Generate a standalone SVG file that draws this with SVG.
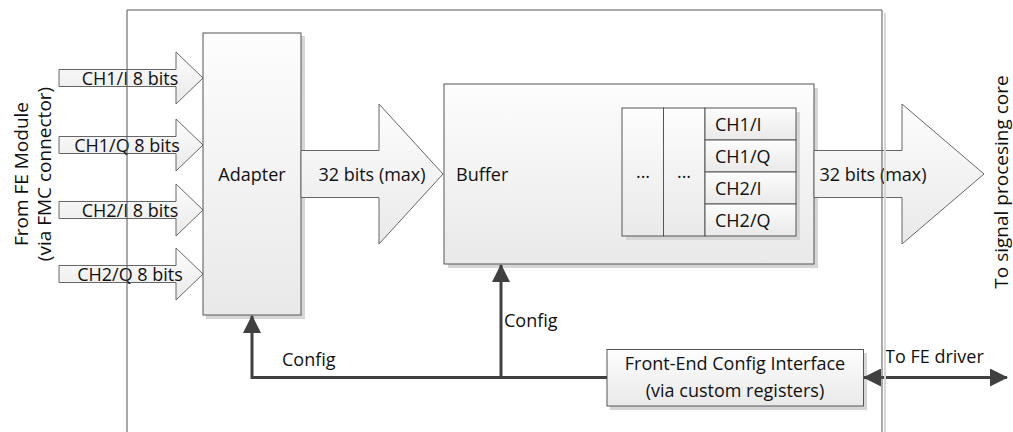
<svg xmlns="http://www.w3.org/2000/svg" width="1013" height="432" viewBox="0 0 1013 432">
  <defs>
    <linearGradient id="boxFill" x1="0" y1="0" x2="0" y2="1">
      <stop offset="0" stop-color="#fdfdfd"/>
      <stop offset="1" stop-color="#e9e9e9"/>
    </linearGradient>
    <marker id="head" viewBox="0 0 18 18" refX="17" refY="9" markerWidth="18" markerHeight="18" markerUnits="userSpaceOnUse" orient="auto-start-reverse">
      <path d="M0,0 L18,9 L0,18 Z" fill="#404040"/>
    </marker>
    <style>
      .box { fill: url(#boxFill); stroke: #555; stroke-width: 1; }
      .shadow { fill: #d6d6d6; }
      .arrow { fill: url(#boxFill); stroke: #666; stroke-width: 1; }
      .cell { fill: url(#boxFill); stroke: #555; stroke-width: 1; }
      .wire { fill: none; stroke: #404040; stroke-width: 3; }
      .frame { fill: none; stroke: #555; stroke-width: 1; }
      .frameShadow { fill: none; stroke: #d6d6d6; stroke-width: 2; }
      text { font-family: "Open Sans", "Liberation Sans", sans-serif; font-size: 18px; fill: #111; }
      .mid { text-anchor: middle; }
      .side { font-size: 19px; }
    </style>
  </defs>

  <rect width="1013" height="432" fill="#ffffff"/>

  <!-- side labels -->
  <g id="label-in">
    <text class="mid side" transform="translate(28,174) rotate(-90)">From FE Module</text>
    <text class="mid side" transform="translate(51,174) rotate(-90)">(via FMC connector)</text>
  </g>
  <g id="label-out">
    <text class="mid side" transform="translate(1008,182) rotate(-90)">To signal procesing core</text>
  </g>

  <!-- input buses -->
  <g id="bus-ch1i">
    <path class="arrow" d="M59,69.5 H176 V52 L203,78 L176,104 V86.5 H59 Z"/>
    <text class="mid" x="130" y="84.5">CH1/I 8 bits</text>
  </g>
  <g id="bus-ch1q">
    <path class="arrow" d="M59,136.5 H176 V119 L203,145 L176,171 V153.5 H59 Z"/>
    <text class="mid" x="127" y="151.5">CH1/Q 8 bits</text>
  </g>
  <g id="bus-ch2i">
    <path class="arrow" d="M59,201.5 H176 V184 L203,210 L176,236 V218.5 H59 Z"/>
    <text class="mid" x="130" y="216.5">CH2/I 8 bits</text>
  </g>
  <g id="bus-ch2q">
    <path class="arrow" d="M59,265.5 H176 V248 L203,274 L176,300 V282.5 H59 Z"/>
    <text class="mid" x="130" y="280.5">CH2/Q 8 bits</text>
  </g>

  <!-- adapter -->
  <g id="adapter">
    <rect class="shadow" x="206" y="36" width="99" height="283"/>
    <rect class="box" x="203" y="33" width="98" height="282"/>
    <text class="mid" x="252" y="181">Adapter</text>
  </g>

  <!-- internal bus adapter to buffer -->
  <g id="bus-internal">
    <path class="arrow" d="M301,150.5 H379 V104 L443,174 L379,244 V197.5 H301 Z"/>
    <text class="mid" x="372" y="180.5">32 bits (max)</text>
  </g>

  <!-- buffer with register stack -->
  <g id="buffer">
    <rect class="shadow" x="448" y="88" width="370" height="180"/>
    <rect class="box" x="444" y="84" width="370" height="180"/>
    <text x="456" y="180.5">Buffer</text>
    <rect class="shadow" x="626" y="112" width="174" height="128"/>
    <rect class="cell" x="622" y="108" width="41.5" height="128"/>
    <rect class="cell" x="663.5" y="108" width="41.5" height="128"/>
    <rect class="cell" x="705" y="108" width="91" height="32"/>
    <rect class="cell" x="705" y="140" width="91" height="32"/>
    <rect class="cell" x="705" y="172" width="91" height="32"/>
    <rect class="cell" x="705" y="204" width="91" height="32"/>
    <text class="mid" x="643" y="178">...</text>
    <text class="mid" x="684" y="178">...</text>
    <text x="715" y="130.5">CH1/I</text>
    <text x="715" y="162.5">CH1/Q</text>
    <text x="715" y="194.5">CH2/I</text>
    <text x="715" y="226.5">CH2/Q</text>
  </g>

  <!-- output bus -->
  <g id="bus-out">
    <path class="arrow" d="M814,150.5 H902 V104 L984,174 L902,244 V197.5 H814 Z"/>
    <text class="mid" x="873" y="180.5">32 bits (max)</text>
  </g>

  <!-- config interface -->
  <g id="config-if">
    <rect class="shadow" x="610" y="353" width="257" height="57"/>
    <rect class="box" x="607" y="349.5" width="256.5" height="56.5"/>
    <text class="mid" x="735" y="370">Front-End Config Interface</text>
    <text class="mid" x="735" y="397">(via custom registers)</text>
  </g>

  <!-- config connectors -->
  <g id="connectors">
    <path class="wire" d="M607,377.5 H252 V316" marker-end="url(#head)"/>
    <path class="wire" d="M501,377.5 V265" marker-end="url(#head)"/>
    <path class="wire" d="M864,377.5 H1007" marker-start="url(#head)" marker-end="url(#head)"/>
    <text x="282" y="366">Config</text>
    <text x="504" y="327">Config</text>
    <text x="885" y="363">To FE driver</text>
  </g>

  <!-- outer FPGA boundary -->
  <g id="frame">
    <path class="frameShadow" d="M885,13 V432"/>
    <path class="frame" d="M127,432 V10 H882 V432"/>
  </g>
</svg>
